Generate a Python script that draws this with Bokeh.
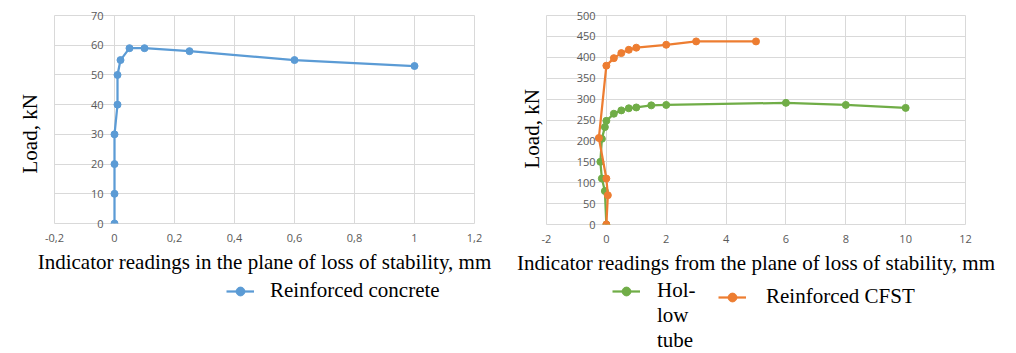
from bokeh.plotting import figure
from bokeh.models import Legend, LegendItem, FixedTicker, Range1d, Title
from bokeh.layouts import row, column
from bokeh.embed import file_html
from bokeh.resources import INLINE

# ---- data: left chart (Reinforced concrete)
rc_x = [0, 0, 0, 0, 0.01, 0.01, 0.02, 0.05, 0.1, 0.25, 0.6, 1.0]
rc_y = [0, 10, 20, 30, 40, 50, 55, 59, 59, 58, 55, 53]

# ---- data: right chart
ht_x = [0, -0.05, -0.15, -0.2, -0.15, -0.05, 0, 0.25, 0.5, 0.75, 1, 1.5, 2, 6, 8, 10]
ht_y = [0, 80, 110, 150, 205, 233, 248, 265, 273, 278, 280, 285, 286, 291, 286, 279]
cf_x = [0, 0.05, 0, -0.25, 0, 0.25, 0.5, 0.75, 1, 2, 3, 5]
cf_y = [0, 70, 110, 207, 380, 398, 410, 418, 423, 430, 438, 438]

# ---- ticks
left_xticks = [-0.2, 0, 0.2, 0.4, 0.6, 0.8, 1.0, 1.2]
left_xlabels = ["-0,2", "0", "0,2", "0,4", "0,6", "0,8", "1", "1,2"]
left_yticks = [0, 10, 20, 30, 40, 50, 60, 70]
right_xticks = [-2, 0, 2, 4, 6, 8, 10, 12]
right_xlabels = ["-2", "0", "2", "4", "6", "8", "10", "12"]
right_yticks = [0, 50, 100, 150, 200, 250, 300, 350, 400, 450, 500]

# ---- legend texts
rc_name = "Reinforced concrete"
ht_name_lines = ["Hol-", "low", "tube"]
cf_name = "Reinforced CFST"

BLUE = "#5b9bd5"
ORANGE = "#ed7d31"
GREEN = "#70ad47"
GRID = "#d9d9d9"
TICKC = "#595959"
SERIF = "Liberation Serif"
FS = "21px"


def style(p, xticks, xlabels, yticks, xtitle):
    p.xaxis.ticker = FixedTicker(ticks=xticks)
    p.xaxis.major_label_overrides = {t: l for t, l in zip(xticks, xlabels)}
    p.yaxis.ticker = FixedTicker(ticks=yticks)
    p.xgrid.ticker = FixedTicker(ticks=xticks)
    p.ygrid.ticker = FixedTicker(ticks=yticks)
    for g in (p.xgrid, p.ygrid):
        g.grid_line_color = GRID
        g.grid_line_width = 1
    p.outline_line_color = GRID
    for ax in (p.xaxis, p.yaxis):
        ax.axis_line_color = None
        ax.major_tick_line_color = None
        ax.minor_tick_line_color = None
        ax.major_label_text_color = TICKC
        ax.major_label_text_font = "Open Sans"
        ax.major_label_text_font_size = "11px"
    # y labels drawn where the vertical axis crosses x = 0
    p.yaxis.major_label_standoff = -55
    p.xaxis.major_label_standoff = 4
    p.xaxis.axis_label = xtitle
    p.xaxis.axis_label_text_font = SERIF
    p.xaxis.axis_label_text_font_size = FS
    p.xaxis.axis_label_text_font_style = "normal"
    p.xaxis.axis_label_text_color = "black"
    p.xaxis.axis_label_standoff = 5
    p.background_fill_color = "white"
    p.border_fill_color = "white"


def ytitle(off, standoff):
    return Title(text="Load, kN", align="left", offset=off, standoff=standoff, text_font=SERIF,
                 text_font_size=FS, text_font_style="normal", text_color="black")


# ---------------- left figure
p1 = figure(frame_width=420, frame_height=208, output_backend="svg", toolbar_location=None,
            x_range=Range1d(-0.2, 1.2), y_range=Range1d(0, 70),
            min_border_left=54, min_border_right=34, min_border_top=15, min_border_bottom=52)
style(p1, left_xticks, left_xlabels, left_yticks,
      "Indicator readings in the plane of loss of stability, mm")
p1.line(rc_x, rc_y, line_color=BLUE, line_width=2.25)
p1.scatter(rc_x, rc_y, size=7, fill_color=BLUE, line_color=BLUE)
p1.add_layout(ytitle(50, 26), "left")

# ---------------- right figure
p2 = figure(frame_width=419, frame_height=209, output_backend="svg", toolbar_location=None,
            x_range=Range1d(-2, 12), y_range=Range1d(0, 500),
            min_border_left=38, min_border_right=51, min_border_top=15, min_border_bottom=51)
style(p2, right_xticks, right_xlabels, right_yticks,
      "Indicator readings from the plane of loss of stability, mm")
p2.line(ht_x, ht_y, line_color=GREEN, line_width=2.25)
p2.scatter(ht_x, ht_y, size=7, fill_color=GREEN, line_color=GREEN)
p2.line(cf_x, cf_y, line_color=ORANGE, line_width=2.25)
p2.scatter(cf_x, cf_y, size=7, fill_color=ORANGE, line_color=ORANGE)
p2.add_layout(ytitle(56, 6), "left")

# ---------------- legend strip (legends of both charts)
# its ranges lie far from the data, so the series copies used for the legend keys stay out of view
lf = figure(width=1016, height=76, x_range=Range1d(100, 101), y_range=Range1d(1000, 1001),
            min_border=0, output_backend="svg", toolbar_location=None,
            x_axis_location=None, y_axis_location=None)
lf.grid.visible = False
lf.outline_line_color = None
lf.background_fill_color = "white"
lf.border_fill_color = "white"


def proxy(xs, ys, color):
    return [lf.line(xs, ys, line_color=color, line_width=2.25),
            lf.scatter(xs, ys, size=7, fill_color=color, line_color=color)]


blank = lf.scatter(rc_x, rc_y, alpha=0)


def legend(items, loc, standoff):
    return Legend(items=items, orientation="vertical", location=loc, padding=0, margin=0,
                  border_line_color=None, background_fill_alpha=0, glyph_width=28,
                  glyph_height=22, label_height=22, spacing=0,
                  label_standoff=standoff,
                  label_text_font=SERIF, label_text_font_size=FS, label_text_color="black")


lf.add_layout(legend([LegendItem(label=rc_name, renderers=proxy(rc_x, rc_y, BLUE))], (226, 50), 16))
ht_items = [LegendItem(label=ht_name_lines[0], renderers=proxy(ht_x, ht_y, GREEN))] + \
           [LegendItem(label=t, renderers=[blank]) for t in ht_name_lines[1:]]
lf.add_layout(legend(ht_items, (612, 0), 17))
lf.add_layout(legend([LegendItem(label=cf_name, renderers=proxy(cf_x, cf_y, ORANGE))], (718, 44), 20))

layout = column(row(p1, p2), lf, spacing=0)
open("out.html", "w").write(file_html(layout, INLINE))
